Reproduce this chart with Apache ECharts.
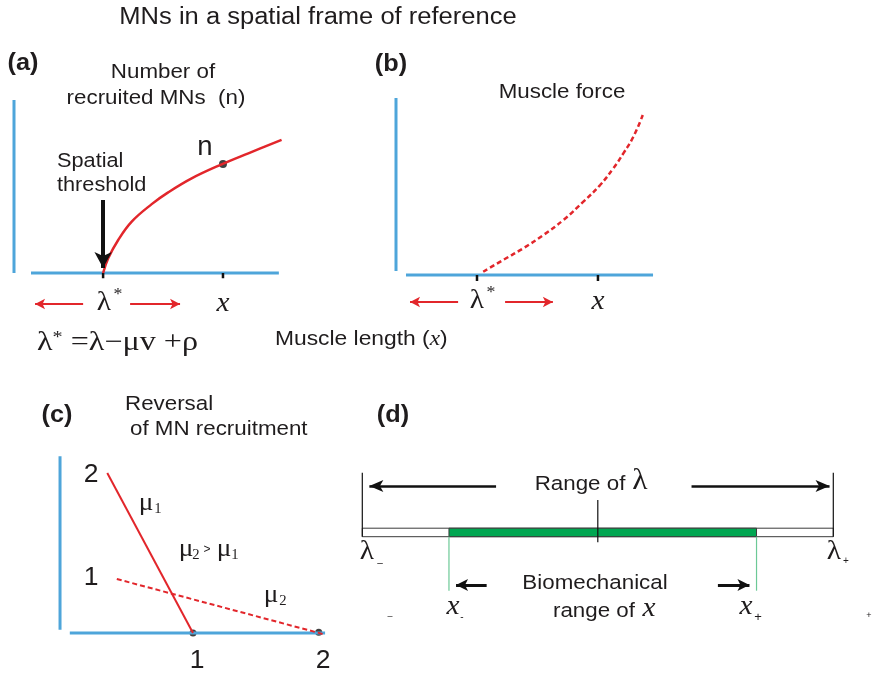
<!DOCTYPE html>
<html><head><meta charset="utf-8">
<script src="https://cdn.jsdelivr.net/npm/echarts@6/dist/echarts.min.js"></script>
<style>html,body{margin:0;padding:0;background:#fff}#c{width:876px;height:676px}</style>
</head><body><div id="c"></div>
<script>
// ---------- data (panel units) ----------
// Panel (a): recruited MNs vs muscle length
const aAxisV = [[0, 0], [0, 10]];
const aAxisH = [[0.63, 0], [9.81, 0]];
const aTicks = [3.3, 7.74];               // lambda*, x
const aCurve = [[3.3, 0], [3.49, 0.85], [3.86, 1.91], [4.36, 2.97], [5.1, 3.98], [5.71, 4.66], [6.58, 5.47], [7.69, 6.28], [8.68, 6.92], [9.91, 7.69]];
const aDot = [[7.74, 6.3]];
const aThreshArrow = [[3.3, 4.22], [3.3, 0.29]];
const aRedArrows = [[[2.56, -1.79], [0.78, -1.79]], [[4.30, -1.79], [6.15, -1.79]]];
// Panel (b): muscle force
const bAxisV = [[0, 0.23], [0, 10.23]];
const bAxisH = [[0.37, 0], [9.52, 0]];
const bTicks = [3.0, 7.48];
const bCurve = [[3.23, 0.19], [3.97, 0.87], [4.71, 1.54], [5.46, 2.31], [6.20, 3.18], [6.94, 4.24], [7.56, 5.20], [8.05, 6.17], [8.42, 7.03], [8.79, 7.99], [9.14, 9.25]];
const bRedArrows = [[[2.30, -1.56], [0.52, -1.56]], [[4.04, -1.56], [5.81, -1.56]]];
// Panel (c): reversal of recruitment
const cAxisV = [[-0.047, 0.04], [-0.047, 2.21]];
const cAxisH = [[0.03, 0], [2.04, 0]];
const cMu1 = [[0.325, 2.0], [1, 0]];
const cMu2 = [[0.40, 0.675], [2.04, -0.02]];
const cDots = [[1, 0], [1.99, 0.01]];
// Panel (d): ranges
const dFrames = [[[0, 0], [0, 6.4]], [[10, 0], [10, 6.4]]];
const dCenterTick = [[5, 3.67], [5, -0.56]];
const dLambdaRange = [0, 10];
const dBioRange = [1.84, 8.37];
const dBarHeight = 0.85;
const dBioLines = [[[1.84, 0], [1.84, -5.4]], [[8.37, 0], [8.37, -5.4]]];
const dTopArrows = [[[2.84, 5.07], [0.15, 5.07]], [[6.99, 5.07], [9.92, 5.07]]];
const dSmallArrows = [[[2.64, -4.83], [1.99, -4.83]], [[7.55, -4.83], [8.22, -4.83]]];

// ---------- styles ----------
const BLUE = '#4ea5da', RED = '#e2262b', GREEN = '#00a651', INK = '#1f1c1d';
const SANS = 'Liberation Sans', SERIF = 'Liberation Serif';

function seg(g, pts, color, width, type, smooth) {
  return {type: 'line', xAxisIndex: g, yAxisIndex: g, data: pts, showSymbol: false, symbol: 'none',
    smooth: smooth || false, silent: true, clip: false,
    lineStyle: {color, width, type: type || 'solid', cap: 'butt'}};
}
function arrows(g, list, color, width, size) {
  return {type: 'line', xAxisIndex: g, yAxisIndex: g, data: [], silent: true,
    markLine: {silent: true, animation: false, symbol: ['none', 'arrow'], symbolSize: size,
      label: {show: false}, emphasis: {disabled: true},
      lineStyle: {color, width, type: 'solid'},
      data: list.map(a => [{coord: a[0]}, {coord: a[1]}])}};
}
function dots(g, pts, size) {
  return {type: 'scatter', xAxisIndex: g, yAxisIndex: g, data: pts, symbolSize: size, silent: true,
    itemStyle: {color: '#111'}};
}
function tickSegs(g, xs, len) { return xs.map(x => seg(g, [[x, 0], [x, -len]], '#111', 2.5)); }

function T(text, x, y, size, o) {
  o = o || {};
  return {type: 'text', x, y, scaleX: o.sx || 1.09, silent: true, z: 10,
    style: {text, fontSize: size, fontFamily: o.ff || SANS, fontWeight: o.fw || 'normal',
      fontStyle: o.fs || 'normal', fill: INK, align: o.al || 'center', verticalAlign: 'middle'}};
}
const S = (t, x, y, size, o) => T(t, x, y, size, Object.assign({ff: SERIF, sx: 1.05}, o || {}));
const I = (t, x, y, size) => T(t, x, y, size, {ff: SERIF, fs: 'italic', sx: 1.05});
const L = 20.5; // label size

const grids = [
  {left: 0.5, top: 91.35, width: 297, height: 233.55},
  {left: 382.5, top: 93.35, width: 297, height: 233.55},
  {left: 53.3, top: 441, width: 292.1, height: 232},
  {left: 338.75, top: 466.7, width: 518.1, height: 140}
];
const xr = [[-0.5, 10.5], [-0.5, 10.5], [-0.1, 2.2], [-0.5, 10.5]];
const yr = [[-3, 10.5], [-3, 10.5], [-0.5, 2.4], [-7, 7]];

const series = [];
// (a)
series.push(seg(0, aAxisV, BLUE, 3), seg(0, aAxisH, BLUE, 3), ...tickSegs(0, aTicks, 0.3));
series.push(seg(0, aCurve, RED, 2.5, 'solid', 0.4), dots(0, aDot, 8));
series.push(arrows(0, [aThreshArrow], '#111', 4, [13, 16]), arrows(0, aRedArrows, RED, 2, [8, 10]));
// (b)
series.push(seg(1, bAxisV, BLUE, 3), seg(1, bAxisH, BLUE, 3), ...tickSegs(1, bTicks, 0.35));
series.push(seg(1, bCurve, RED, 2.5, [5, 3], 0.5), arrows(1, bRedArrows, RED, 2, [8, 10]));
// (c)
series.push(seg(2, cAxisV, BLUE, 3), seg(2, cAxisH, BLUE, 3));
series.push(seg(2, cMu1, RED, 2), seg(2, cMu2, RED, 2, [5, 3]), dots(2, cDots, 7));
// (d)
series.push({type: 'custom', xAxisIndex: 3, yAxisIndex: 3, silent: true,
  data: [[dLambdaRange[0], dLambdaRange[1], 0, dBarHeight], [dBioRange[0], dBioRange[1], 0, dBarHeight]],
  encode: {x: [0, 1], y: [2, 3]},
  renderItem: function (params, api) {
    const p0 = api.coord([api.value(0), api.value(3)]);
    const p1 = api.coord([api.value(1), api.value(2)]);
    return {type: 'rect', shape: {x: p0[0], y: p0[1], width: p1[0] - p0[0], height: p1[1] - p0[1]},
      style: {fill: params.dataIndex === 0 ? '#fff' : GREEN, stroke: '#3a3a3a', lineWidth: 1}};
  }});
dFrames.forEach(f => series.push(seg(3, f, '#111', 1.2)));
series.push(seg(3, dCenterTick, '#111', 1.2));
dBioLines.forEach(f => series.push(seg(3, f, '#6cc996', 1.2)));
series.push(arrows(3, dTopArrows, '#111', 2.5, [9, 14]), arrows(3, dSmallArrows, '#111', 3, [9, 12]));

const graphic = [
  T('MNs in a spatial frame of reference', 318, 18, 23, {sx: 1.11}),
  // (a)
  T('(a)', 23, 64, 23, {fw: 'bold', sx: 1.1}),
  T('Number of', 163, 72, L),
  T('recruited MNs  (n)', 156, 98, L),
  T('Spatial', 57, 161, L, {al: 'left', sx: 1.06}),
  T('threshold', 57, 185, L, {al: 'left', sx: 1.06}),
  T('n', 205, 148, 27, {sx: 1.02}),
  S('λ', 104, 303, 28), S('*', 118, 295, 17),
  I('x', 223, 304, 28),
  {type: 'text', x: 37, y: 343, scaleX: 1.19, silent: true,
    style: {text: '{a|λ}{b|*}{a| =λ−μv +ρ}', align: 'left', verticalAlign: 'middle', fill: INK,
      rich: {a: {fontFamily: SERIF, fontSize: 27, fill: INK}, b: {fontFamily: SERIF, fontSize: 17, fill: INK, verticalAlign: 'top'}}}},
  {type: 'text', x: 275, y: 340, scaleX: 1.17, silent: true,
    style: {text: '{a|Muscle length (}{b|x}{a|)}', align: 'left', verticalAlign: 'middle', fill: INK,
      rich: {a: {fontFamily: SANS, fontSize: 19.5, fill: INK}, b: {fontFamily: SERIF, fontStyle: 'italic', fontSize: 20, fill: INK}}}},
  // (b)
  T('(b)', 391, 65, 23, {fw: 'bold', sx: 1.1}),
  T('Muscle force', 562, 92, L),
  S('λ', 477, 301, 28), S('*', 491, 293, 17),
  I('x', 598, 302, 28),
  // (c)
  T('(c)', 57, 416, 23, {fw: 'bold', sx: 1.1}),
  T('Reversal', 125, 404, L, {al: 'left'}),
  T('of MN recruitment', 130, 429, L, {al: 'left'}),
  T('2', 91, 475, 26, {sx: 1.02}),
  T('1', 91, 578, 26, {sx: 1.02}),
  T('1', 197, 661, 26, {sx: 1.02}),
  T('2', 323, 661, 26, {sx: 1.02}),
  S('μ', 146, 503, 26), S('1', 158, 509, 14),
  S('μ', 186, 549, 26), S('2', 196, 555, 14), T('>', 207, 550, 12, {sx: 1}),
  S('μ', 224, 549, 26), S('1', 235, 555, 14),
  S('μ', 271, 595, 26), S('2', 283, 601, 14),
  // (d)
  T('(d)', 393, 416, 23, {fw: 'bold', sx: 1.1}),
  T('Range of', 580, 484, L),
  S('λ', 640, 481, 30),
  S('λ', 367, 552, 28), T('–', 380, 563, 10, {sx: 1}),
  S('λ', 834, 552, 28), T('+', 846, 561, 10, {sx: 1}),
  T('Biomechanical', 595, 583, L),
  T('range of', 594, 611, L),
  I('x', 649, 609, 28),
  I('x', 453, 607, 28), T('-', 462, 617, 10, {sx: 1}),
  I('x', 746, 607, 28), T('+', 758, 617, 13, {sx: 1}),
  T('–', 390, 617, 9, {sx: 1}),
  T('+', 869, 616, 9, {sx: 1})
];

const chart = echarts.init(document.getElementById('c'), null, {renderer: 'canvas'});
chart.setOption({
  animation: false,
  backgroundColor: '#fff',
  grid: grids,
  xAxis: xr.map((r, i) => ({type: 'value', gridIndex: i, min: r[0], max: r[1], show: false})),
  yAxis: yr.map((r, i) => ({type: 'value', gridIndex: i, min: r[0], max: r[1], show: false})),
  series,
  graphic
});
</script>
</body></html>
